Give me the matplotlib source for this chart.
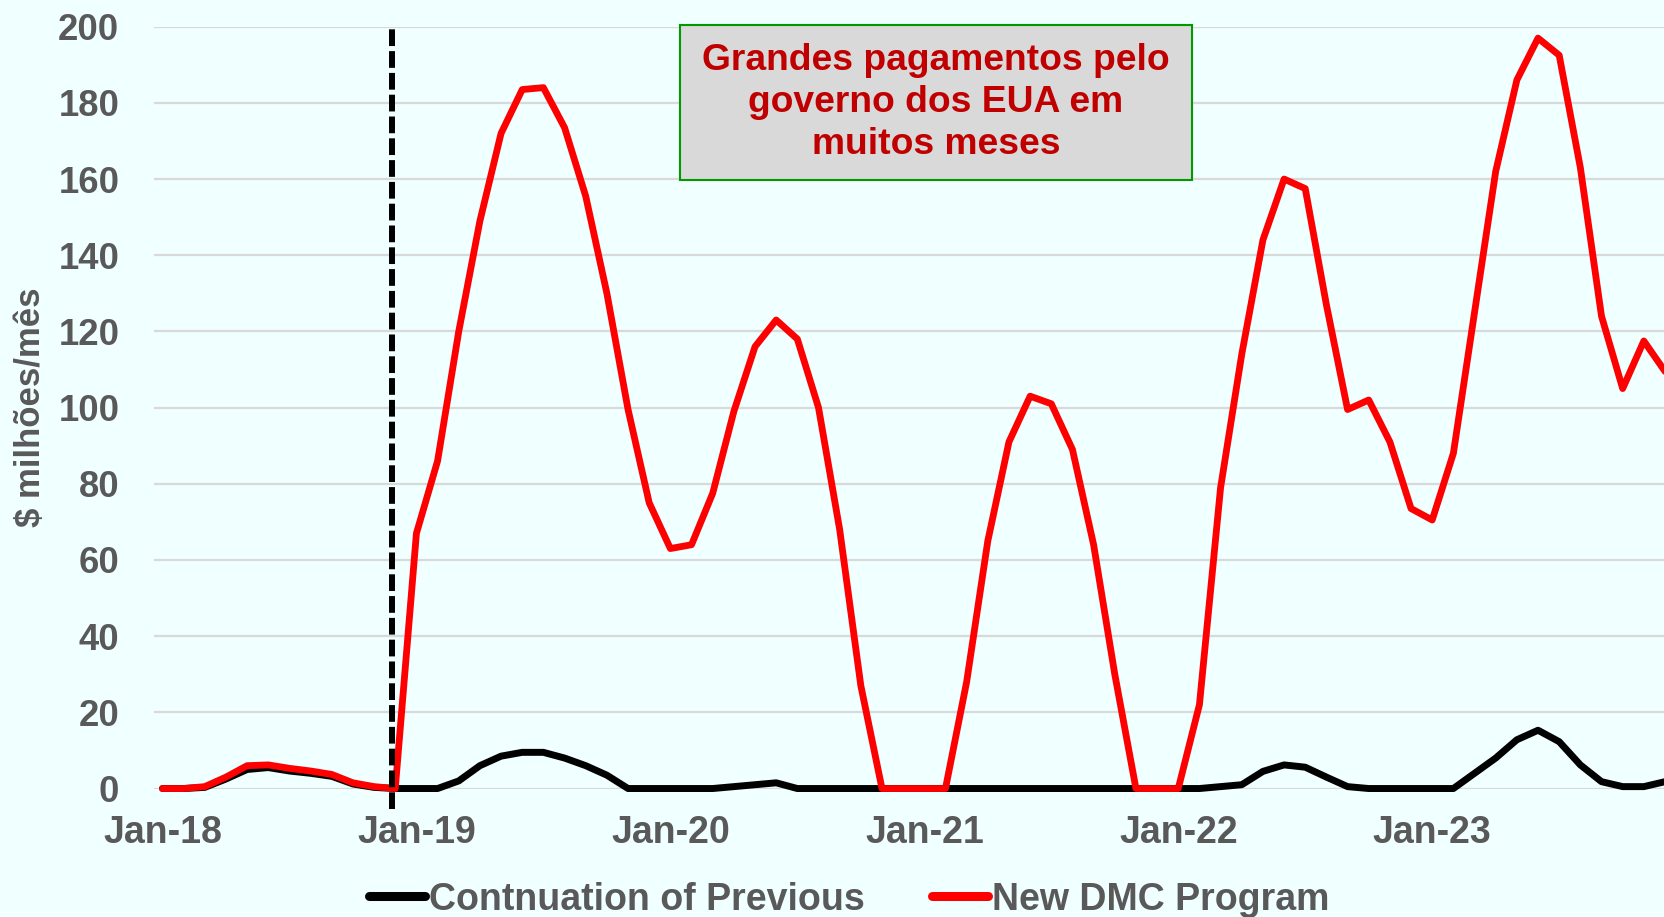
import matplotlib
matplotlib.use("Agg")
import matplotlib.pyplot as plt
from matplotlib.patches import Rectangle

# monthly values, Jan-18 .. Dec-23 ($ millions / month)
months = [f"{m}-{y}" for y in range(18, 24) for m in
          ["Jan", "Feb", "Mar", "Apr", "May", "Jun", "Jul", "Aug", "Sep", "Oct", "Nov", "Dec"]]

new_dmc = [0, 0, 0.5, 3, 6, 6.2, 5.3, 4.6, 3.7, 1.5, 0.5, 0,
           67, 86, 120, 149, 172, 183.5, 184, 173.5, 155.5, 130, 99.5, 75,
           63, 64, 77.5, 99, 116, 123, 118, 100, 68, 27, 0, 0,
           0, 0, 28, 65, 91, 103, 101, 89, 64, 30, 0, 0,
           0, 22, 79, 114, 144, 160, 157.5, 127, 99.5, 102, 91, 73.5,
           70.5, 88, 125, 162, 186, 197, 192.5, 163, 124, 105, 117.5, 109.5]

continuation = [0, 0, 0.3, 2.5, 5, 5.5, 4.6, 4, 3.2, 1.2, 0.3, 0,
                0, 0, 2, 6, 8.5, 9.5, 9.5, 8, 6, 3.5, 0, 0,
                0, 0, 0, 0.5, 1, 1.5, 0, 0, 0, 0, 0, 0,
                0, 0, 0, 0, 0, 0, 0, 0, 0, 0, 0, 0,
                0, 0, 0.5, 1, 4.5, 6.2, 5.6, 3, 0.5, 0, 0, 0,
                0, 0, 4, 8, 12.8, 15.3, 12.3, 6.2, 1.8, 0.5, 0.5, 1.8]

tick_pos = [0, 12, 24, 36, 48, 60]
tick_labels = [months[i] for i in tick_pos]
program_start = 10.85  # dashed marker just before Jan-19

bg = "#F0FFFF"
grey = "#595959"
bold = ["Liberation Sans", "DejaVu Sans"]

fig = plt.figure(figsize=(16.65, 9.17), dpi=100, facecolor=bg)
ax = fig.add_axes([0.0925, 0.1401, 0.9075, 0.8308], facecolor=bg)

x = list(range(len(months)))
ax.plot(x, continuation, color="black", lw=5, solid_joinstyle="round",
        solid_capstyle="round", label="Contnuation of Previous", zorder=3, clip_on=False)
ax.plot(x, new_dmc, color="#FF0000", lw=4.9, solid_joinstyle="round",
        solid_capstyle="round", label="New DMC Program", zorder=4, clip_on=False)

# program start marker
ax.plot([program_start, program_start], [-5.5, 200], color="black", lw=4.3,
        dashes=(2.8, 0.85), zorder=5, clip_on=False)

ax.set_xlim(-0.4, 71)
ax.set_ylim(0, 200)
ax.set_yticks(range(0, 201, 20))
ax.set_xticks(tick_pos)
ax.set_xticklabels(tick_labels)
ax.grid(axis="y", color="#D9D9D9", lw=1.6, zorder=0)
ax.set_axisbelow(True)
for s in ax.spines.values():
    s.set_visible(False)
ax.tick_params(length=0)
ax.tick_params(axis="x", pad=19)
ax.tick_params(axis="y", pad=25)
for lab in ax.get_xticklabels():
    lab.set_family(bold)
    lab.set_fontweight("bold")
    lab.set_fontsize(27)
    lab.set_color(grey)
for lab in ax.get_yticklabels():
    lab.set_family(bold)
    lab.set_fontweight("bold")
    lab.set_fontsize(26.3)
    lab.set_color(grey)

ax.set_ylabel("$ milhões/mês", family=bold, fontweight="bold", fontsize=25, color=grey)
ax.yaxis.set_label_coords(-0.071, 0.5)

# annotation box
ax.add_patch(Rectangle((0.3481, 0.7988), 0.3389, 0.2034, transform=ax.transAxes,
                       facecolor="#D9D9D9", edgecolor="#009900", lw=1.5, zorder=6, clip_on=False))
ax.text(0.5175, 0.9005, "Grandes pagamentos pelo\ngoverno dos EUA em\nmuitos meses",
        transform=ax.transAxes, ha="center", va="center", family=bold, fontweight="bold",
        fontsize=26.8, color="#C00000", linespacing=1.27, zorder=7)

leg = fig.legend(loc="center", bbox_to_anchor=(0.51, 0.019), ncol=2, frameon=False,
                 prop={"family": bold, "weight": "bold", "size": 27},
                 handlelength=1.5, handletextpad=0.1, columnspacing=1.8)
for t in leg.get_texts():
    t.set_color(grey)
for h in leg.get_lines():
    h.set_linewidth(6.5)

fig.savefig("out.png", dpi=100, facecolor=bg)
